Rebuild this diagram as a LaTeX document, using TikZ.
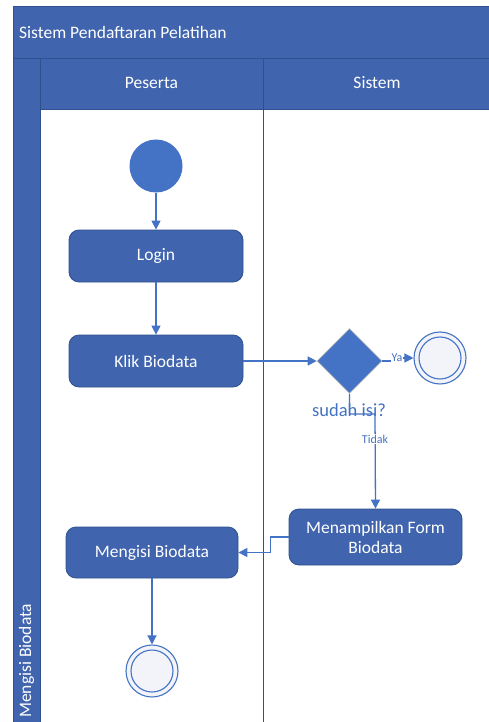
\documentclass[tikz,border=0pt]{standalone}
\usepackage{fontspec}
\setmainfont{Carlito}
\usetikzlibrary{shapes.geometric,arrows.meta}
\definecolor{headblue}{HTML}{4064AD}
\definecolor{headline}{HTML}{2F528F}
\definecolor{accent}{HTML}{4472C4}
\definecolor{endfill}{HTML}{F2F4FA}
\tikzset{
  hdr/.style={fill=headblue,draw=headline,line width=0.8pt},
  act/.style={rectangle,rounded corners=10pt,fill=headblue,draw=headline,line width=0.8pt,text=white,font=\fontsize{17.5}{20}\selectfont,align=center,inner sep=0pt},
  flow/.style={draw=accent,line width=1.3pt,-{Triangle[length=9pt,width=9pt]}},
  lbl/.style={font=\fontsize{12}{14}\selectfont,text=accent,fill=white,inner sep=1pt},
  htext/.style={text=white,font=\fontsize{17.5}{20}\selectfont,inner sep=0pt}
}
\begin{document}
\begin{tikzpicture}[x=1pt,y=-1pt]
\useasboundingbox (0,0) rectangle (488,722);
\fill[white] (0,0) rectangle (488,722);
% pool header
\draw[hdr] (13,6) rectangle (490,58);
\node[htext,anchor=west] (title) at (19,32) {Sistem Pendaftaran Pelatihan};
% lane headers
\draw[hdr] (40,58) rectangle (263,109);
\draw[hdr] (263,58) rectangle (490,109);
\node[htext] (peserta) at (151.5,83) {Peserta};
\node[htext] (sistem) at (377,83) {Sistem};
% left strip
\draw[hdr] (13,58) rectangle (40,724);
\node[htext,rotate=90,anchor=west] (phase) at (26.5,718) {Mengisi Biodata};
% lane divider
\draw[headline,line width=0.8pt] (263,109) -- (263,724);
% nodes
\node[circle,fill=accent,minimum size=53pt,inner sep=0pt] (start) at (156,166) {};
\node[act,minimum width=174pt,minimum height=52pt] (login) at (156,256) {Login};
\node[act,minimum width=174pt,minimum height=52pt] (klik) at (156,361) {Klik Biodata};
\node[diamond,fill=accent,draw=black!25,line width=0.6pt,minimum width=65pt,minimum height=65pt,inner sep=0pt] (dec) at (349.5,361) {};
\node[circle,draw=accent,line width=1.1pt,fill=endfill,minimum size=52pt,inner sep=0pt] (endA) at (440,358) {};
\draw[accent,line width=1.1pt] (endA.center) circle (21pt);
\node[act,minimum width=173pt,minimum height=56pt] (tampil) at (375.5,537) {Menampilkan Form\\Biodata};
\node[act,minimum width=172pt,minimum height=51pt] (isi) at (152,552.5) {Mengisi Biodata};
\node[circle,draw=accent,line width=1.1pt,fill=endfill,minimum size=52pt,inner sep=0pt] (endB) at (152,671) {};
\draw[accent,line width=1.1pt] (endB.center) circle (21pt);
% decision label
\node[text=accent,font=\fontsize{18.5}{20}\selectfont,inner sep=0pt] (q) at (349,410) {sudah isi?};
% flows
\draw[flow] (start) -- (login);
\draw[flow] (login) -- (klik);
\draw[flow] (klik.east) -- (dec.west);
\draw[flow] (dec.east) -- ++(14,0) |- (endA.west);
\node[lbl] (ya) at (397,358) {Ya};
\coordinate (bend) at (375,414);
\draw[flow] (dec.south) |- (bend) -- (tampil.north);
\node[lbl] (tidak) at (375,439) {Tidak};
\draw[flow] (tampil.west) -- ++(-18,0) |- (isi.east);
\draw[flow] (isi.south) -- (endB.north);
\end{tikzpicture}
\end{document}
